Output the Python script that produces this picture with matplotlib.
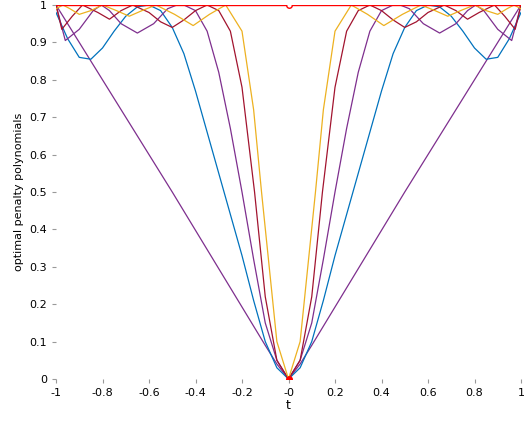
import numpy as np
import matplotlib.pyplot as plt

# values for t >= 0 (curves are even in t)
t_lin = [0, 0.05, 0.1, 0.5, 1.0]
y_lin = [0, 0.04, 0.09, 0.5, 1.0]

t_blue = [0, 0.05, 0.1, 0.15, 0.2, 0.25, 0.3, 0.35, 0.4, 0.45, 0.5, 0.55, 0.6, 0.65,
          0.7, 0.75, 0.8, 0.85, 0.9, 0.95, 1.0]
y_blue = [0, 0.03, 0.1, 0.21, 0.33, 0.44, 0.55, 0.66, 0.77, 0.87, 0.94, 0.985, 1.0, 0.995,
          0.97, 0.93, 0.885, 0.855, 0.86, 0.91, 0.98]

t_purp = [0, 0.05, 0.1, 0.15, 0.2, 0.25, 0.3, 0.35, 0.4, 0.45, 0.48, 0.52, 0.58, 0.65,
          0.72, 0.77, 0.805, 0.84, 0.9, 0.96, 1.0]
y_purp = [0, 0.05, 0.15, 0.32, 0.5, 0.67, 0.82, 0.93, 0.985, 1.0, 1.0, 0.99, 0.95, 0.925,
          0.95, 0.985, 1.0, 0.985, 0.935, 0.905, 1.0]

t_red = [0, 0.05, 0.1, 0.146, 0.2, 0.25, 0.3, 0.35, 0.4, 0.45, 0.5, 0.55, 0.6, 0.67,
         0.72, 0.77, 0.82, 0.886, 0.93, 0.975, 1.0]
y_red = [0, 0.05, 0.22, 0.5, 0.78, 0.93, 0.985, 1.0, 0.985, 0.96, 0.94, 0.955, 0.98, 1.0,
         0.985, 0.962, 0.98, 1.0, 0.97, 0.935, 1.0]

t_orng = [0, 0.05, 0.116, 0.15, 0.2, 0.27, 0.34, 0.41, 0.49, 0.57, 0.63, 0.685, 0.74,
          0.8, 0.85, 0.9, 0.94, 0.97, 1.0]
y_orng = [0, 0.1, 0.5, 0.72, 0.93, 1.0, 0.975, 0.945, 0.975, 1.0, 0.985, 0.97, 0.985,
          1.0, 0.985, 0.975, 0.99, 1.0, 0.99]


def mirror(t, y):
    t = np.array(t)
    y = np.array(y)
    return np.concatenate([-t[::-1], t[1:]]), np.concatenate([y[::-1], y[1:]])


fig = plt.figure(figsize=(5.32, 4.3), dpi=100)
ax = fig.add_axes([56/532, 51/430, 465/532, 374/430])

curves = [(t_lin, y_lin, '#7E2F8E'), (t_blue, y_blue, '#0072BD'),
          (t_purp, y_purp, '#7E2F8E'), (t_red, y_red, '#A2142F'),
          (t_orng, y_orng, '#EDB120')]
for t, y, c in curves:
    tt, yy = mirror(t, y)
    ax.plot(tt, yy, color=c, lw=0.9)

ax.plot([-1, 1], [1, 1], color='red', lw=1)
ax.plot([0], [1], 'o', mfc='white', mec='red', ms=4)
ax.plot([0], [0], 'o', color='red', ms=4)

ax.set_xlim(-1, 1)
ax.set_ylim(0, 1)
xt = np.round(np.arange(-1, 1.01, 0.2), 1)
ax.set_xticks(xt)
ax.set_xticklabels(['%g' % v for v in xt])
yt = np.round(np.arange(0, 1.01, 0.1), 1)
ax.set_yticks(yt)
ax.set_yticklabels(['%g' % v for v in yt])
for s in ax.spines.values():
    s.set_visible(False)
ax.tick_params(direction='out', labelsize=8, length=3, color='0.6')
ax.set_xlabel('t', fontsize=9, labelpad=1)
ax.set_ylabel('optimal penalty polynomials', fontsize=8)

fig.savefig('out.png', dpi=100)
